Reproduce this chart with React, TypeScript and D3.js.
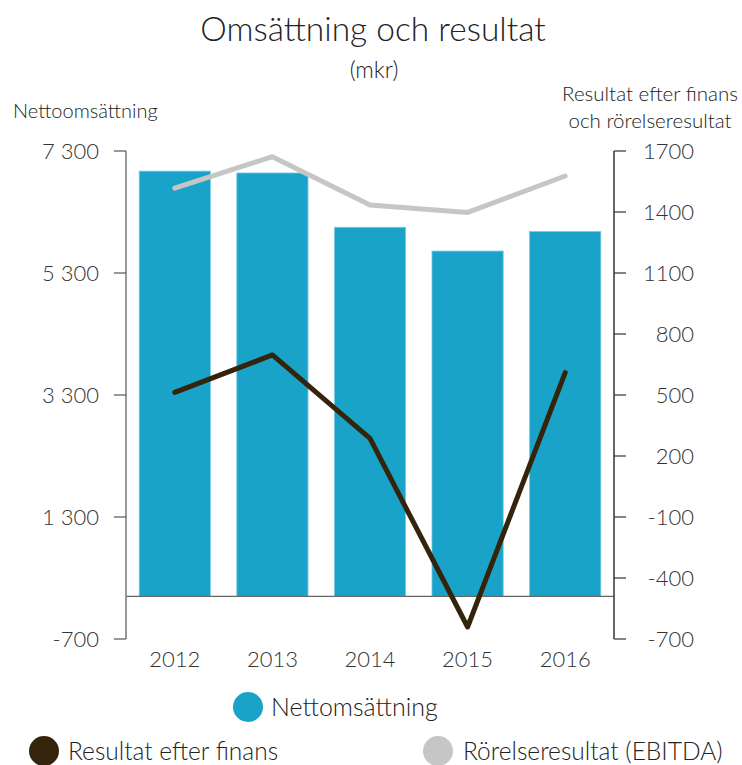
import React from 'react';
import * as d3 from 'd3';

const years = ['2012', '2013', '2014', '2015', '2016'];
const nettoomsattning = [6970, 6940, 6050, 5660, 5980];
const resultatEfterFinans = [513, 697, 287, -641, 610];
const rorelseresultat = [1517, 1672, 1434, 1398, 1577];
const leftTicks = [-700, 1300, 3300, 5300, 7300];
const rightTicks = [-700, -400, -100, 200, 500, 800, 1100, 1400, 1700];

const FONT = 'Lato, "Open Sans", sans-serif';

export default function App() {
  const width = 742;
  const height = 765;
  const margin = { top: 151, right: 128, bottom: 126, left: 126 };
  const innerBottom = height - margin.bottom; // 639

  const x = d3
    .scaleBand<string>()
    .domain(years)
    .range([margin.left, width - margin.right])
    .paddingInner(0.27)
    .paddingOuter(0.135);

  const yLeft = d3.scaleLinear().domain([-700, 7300]).range([innerBottom, margin.top]);
  const yRight = d3.scaleLinear().domain([-700, 1700]).range([innerBottom, margin.top]);

  const cx = (i: number) => (x(years[i]) as number) + x.bandwidth() / 2;

  const line = d3
    .line<number>()
    .x((_, i) => cx(i))
    .y((d) => yRight(d));

  // thousands with a space, plain hyphen for negatives
  const fmtLeft = (v: number) =>
    (v < 0 ? '-' : '') + d3.format(',')(Math.abs(v)).replace(',', ' ');

  const axisL = margin.left;
  const axisR = width - margin.right;

  return (
    <svg
      width={width}
      height={height}
      style={{ position: 'absolute', left: 0, top: 0, background: '#fff' }}
      fontFamily={FONT}
    >
      {/* titles */}
      <text x={373} y={41} textAnchor="middle" fontSize={33.5} fontWeight={300} fill="#222">
        Omsättning och resultat
      </text>
      <text x={374} y={78} textAnchor="middle" fontSize={23} fontWeight={300} fill="#222">
        (mkr)
      </text>
      <text x={13} y={118} fontSize={20} fontWeight={300} fill="#222">
        Nettoomsättning
      </text>
      <text x={650} y={101} textAnchor="middle" fontSize={20.5} fontWeight={300} fill="#222">
        Resultat efter finans
      </text>
      <text x={650} y={128} textAnchor="middle" fontSize={20.5} fontWeight={300} fill="#222">
        och rörelseresultat
      </text>

      {/* bars */}
      {nettoomsattning.map((v, i) => (
        <rect
          key={years[i]}
          x={x(years[i])}
          y={yLeft(v)}
          width={x.bandwidth()}
          height={yLeft(0) - yLeft(v)}
          fill="#19a3c8"
          stroke="#7fcbe3"
          strokeWidth={0.8}
        />
      ))}

      {/* zero line */}
      <line x1={axisL} x2={axisR} y1={yLeft(0)} y2={yLeft(0)} stroke="#666" strokeWidth={1.2} />

      {/* left axis */}
      <line x1={axisL} x2={axisL} y1={yLeft(7300)} y2={yLeft(-700)} stroke="#777" strokeWidth={1.5} />
      {leftTicks.map((t) => (
        <g key={t}>
          <line x1={axisL - 12} x2={axisL} y1={yLeft(t)} y2={yLeft(t)} stroke="#555" strokeWidth={1.2} />
          <text
            x={99}
            y={yLeft(t)}
            dy="0.36em"
            textAnchor="end"
            fontSize={22}
            fontWeight={300}
            fill="#333"
          >
            {fmtLeft(t)}
          </text>
        </g>
      ))}

      {/* right axis */}
      <line x1={axisR} x2={axisR} y1={yRight(1700)} y2={yRight(-700)} stroke="#333" strokeWidth={1.5} />
      {rightTicks.map((t) => (
        <g key={t}>
          <line x1={axisR} x2={axisR + 12} y1={yRight(t)} y2={yRight(t)} stroke="#333" strokeWidth={1.2} />
          <text
            x={694}
            y={yRight(t)}
            dy="0.36em"
            textAnchor="end"
            fontSize={22}
            fontWeight={300}
            fill="#333"
          >
            {t}
          </text>
        </g>
      ))}

      {/* x labels */}
      {years.map((yr, i) => (
        <text key={yr} x={cx(i)} y={667} textAnchor="middle" fontSize={22} fontWeight={300} fill="#333">
          {yr}
        </text>
      ))}

      {/* lines */}
      <path
        d={line(rorelseresultat) || ''}
        fill="none"
        stroke="#c6c6c6"
        strokeWidth={5}
        strokeLinecap="round"
        strokeLinejoin="round"
      />
      <path
        d={line(resultatEfterFinans) || ''}
        fill="none"
        stroke="#35240c"
        strokeWidth={5}
        strokeLinecap="round"
        strokeLinejoin="round"
      />

      {/* legend */}
      <circle cx={248} cy={707} r={15} fill="#19a3c8" />
      <text x={271} y={716} fontSize={25} fontWeight={300} fill="#222">
        Nettomsättning
      </text>
      <circle cx={44} cy={751} r={15} fill="#35240c" />
      <text x={68} y={760} fontSize={24.5} fontWeight={300} fill="#222">
        Resultat efter finans
      </text>
      <circle cx={438} cy={751} r={15} fill="#c6c6c6" />
      <text x={463} y={760} fontSize={24.5} fontWeight={300} fill="#222">
        Rörelseresultat (EBITDA)
      </text>
    </svg>
  );
}
